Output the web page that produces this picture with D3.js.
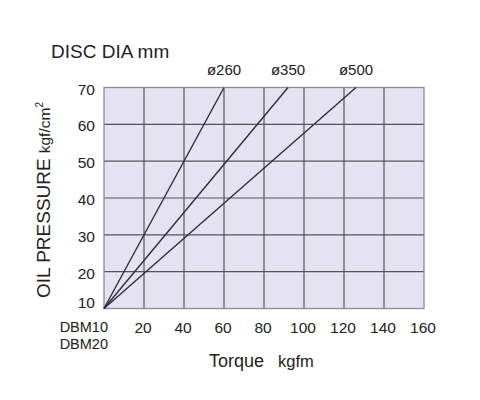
<!DOCTYPE html>
<html>
<head>
<meta charset="utf-8">
<script src="https://cdn.jsdelivr.net/npm/d3@7"></script>
<style>
  html, body { margin: 0; padding: 0; background: #fff; }
  svg { display: block; font-family: "Liberation Sans", Arial, sans-serif; }
</style>
</head>
<body>
<svg id="chart" width="480" height="400"></svg>
<script>
// ---- data ----
const seriesNames = ["ø260", "ø350", "ø500"];
const seriesStart = [[0, 10], [0, 10], [0, 10]];
const seriesEnd = [[60, 70], [92, 70], [126, 70]];
const xTicks = [20, 40, 60, 80, 100, 120, 140, 160];
const yTicks = [10, 20, 30, 40, 50, 60, 70];
const originLabel = ["DBM10", "DBM20"];

(function () {
const svg = d3.select("#chart");
const pL = 104, pR = 424, pT = 87.5, pB = 308.5;

const x = d3.scaleLinear().domain([0, 160]).range([pL, pR]);
const y = d3.scaleLinear().domain([10, 70]).range([pB, pT]);

// background
svg.append("rect")
  .attr("x", pL).attr("y", pT)
  .attr("width", pR - pL).attr("height", pB - pT)
  .attr("fill", "#e5e3f1");

// grid
const g = svg.append("g");
g.selectAll(".vg").data(xTicks.filter(d => d < 160)).enter().append("line")
  .attr("x1", d => x(d)).attr("x2", d => x(d))
  .attr("y1", pT).attr("y2", pB)
  .attr("stroke", "#555").attr("stroke-width", 1.2);
g.selectAll(".hg").data(yTicks.filter(d => d > 10 && d < 70)).enter().append("line")
  .attr("x1", pL).attr("x2", pR)
  .attr("y1", d => y(d)).attr("y2", d => y(d))
  .attr("stroke", "#555").attr("stroke-width", 1.2);

// border
svg.append("rect")
  .attr("x", pL).attr("y", pT)
  .attr("width", pR - pL).attr("height", pB - pT)
  .attr("fill", "none").attr("stroke", "#8c8b96").attr("stroke-width", 1.3);

// series lines
const lines = seriesNames.map((n, i) => ({ name: n, pts: [seriesStart[i], seriesEnd[i]] }));
const lineGen = d3.line().x(d => x(d[0])).y(d => y(d[1]));
svg.selectAll(".series").data(lines).enter().append("path")
  .attr("d", d => lineGen(d.pts))
  .attr("fill", "none").attr("stroke", "#2e2e3a").attr("stroke-width", 1.4);

// series labels
svg.selectAll(".slab").data(lines).enter().append("text")
  .attr("x", d => x(d.pts[1][0]))
  .attr("y", 75)
  .attr("text-anchor", "middle")
  .attr("font-size", 15)
  .attr("fill", "#222")
  .text(d => d.name);

// y tick labels
svg.selectAll(".ylab").data(yTicks).enter().append("text")
  .attr("x", 95)
  .attr("y", d => y(d) + (d === 10 ? -1 : 7))
  .attr("text-anchor", "end")
  .attr("font-size", 15.5)
  .attr("fill", "#222")
  .text(d => d);

// x tick labels
svg.selectAll(".xlab").data(xTicks).enter().append("text")
  .attr("x", d => x(d) - 1)
  .attr("y", 333)
  .attr("text-anchor", "middle")
  .attr("font-size", 15.5)
  .attr("fill", "#222")
  .text(d => d);

// origin label (two lines)
svg.selectAll(".olab").data(originLabel).enter().append("text")
  .attr("x", x(0) + 4)
  .attr("y", (d, i) => 332 + i * 17)
  .attr("text-anchor", "end")
  .attr("font-size", 14.5)
  .attr("fill", "#222")
  .text(d => d);

// title
svg.append("text")
  .attr("x", 51).attr("y", 57.5)
  .attr("font-size", 19)
  .attr("fill", "#222")
  .text("DISC DIA mm");

// x axis title
const xt = svg.append("text")
  .attr("x", 209).attr("y", 366.5)
  .attr("fill", "#222");
xt.append("tspan").attr("font-size", 18).text("Torque");
xt.append("tspan").attr("font-size", 16.5).attr("dx", 14).text("kgfm");

// y axis title
const yt = svg.append("text")
  .attr("transform", "translate(50,298) rotate(-90)")
  .attr("fill", "#222");
yt.append("tspan").attr("font-size", 19).text("OIL PRESSURE");
yt.append("tspan").attr("font-size", 15.5).attr("dx", 5).text("kgf/cm");
yt.append("tspan").attr("font-size", 10).attr("dy", -7).text("2");
})();
</script>
</body>
</html>
